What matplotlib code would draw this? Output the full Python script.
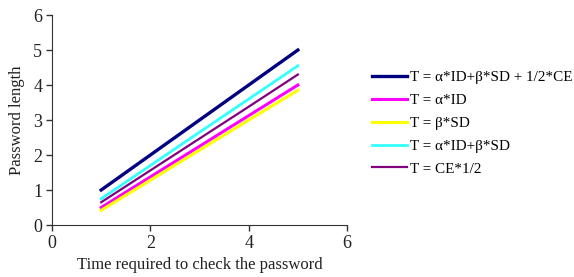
import matplotlib
matplotlib.use("Agg")
import matplotlib.pyplot as plt

plt.rcParams['font.family'] = ['Liberation Serif', 'DejaVu Serif']

x = [1, 2, 3, 4, 5]
labels = ["T = α*ID+β*SD + 1/2*CE", "T = α*ID", "T = β*SD", "T = α*ID+β*SD", "T = CE*1/2"]
combined = [1.0, 2.0, 3.0, 4.0, 5.0]
alpha_id = [0.5, 1.375, 2.25, 3.125, 4.0]
beta_sd = [0.42, 1.28, 2.14, 3.0, 3.85]
id_sd = [0.75, 1.7, 2.65, 3.6, 4.55]
ce_half = [0.65, 1.56, 2.47, 3.38, 4.3]
series = [combined, alpha_id, beta_sd, id_sd, ce_half]
colors = ["#000080", "#ff00ff", "#ffff00", "#33ffff", "#800080"]
widths = [2.4, 2.2, 2.2, 2.0, 1.6]
xticks = [0, 2, 4, 6]
yticks = [0, 1, 2, 3, 4, 5, 6]

fig = plt.figure(figsize=(5.74, 2.77), dpi=100)
ax = fig.add_axes([0.0906, 0.1877, 0.514, 0.758])
for ys, c, lw, lab in zip(series, colors, widths, labels):
    ax.plot(x, ys, color=c, lw=lw, label=lab)

ax.set_xlim(0, 6)
ax.set_ylim(0, 6)
ax.set_xticks(xticks)
ax.set_yticks(yticks)
ax.tick_params(labelsize=13, direction='out', length=4, width=1, colors='#333333',
               labelcolor='#222222', pad=3)
for s in ['top', 'right']:
    ax.spines[s].set_visible(False)
for s in ['left', 'bottom']:
    ax.spines[s].set_color('#333333')
ax.set_xlabel("Time required to check the password", fontsize=12, color='#222222', labelpad=4)
ax.set_ylabel("Password length", fontsize=12, color='#222222', labelpad=6)

fig.legend(loc='upper left', bbox_to_anchor=(0.637, 0.766), frameon=False, fontsize=10.9,
           handlelength=2.3, handletextpad=0.2, labelspacing=0.61, borderaxespad=0)

fig.savefig("out.png", dpi=100)
